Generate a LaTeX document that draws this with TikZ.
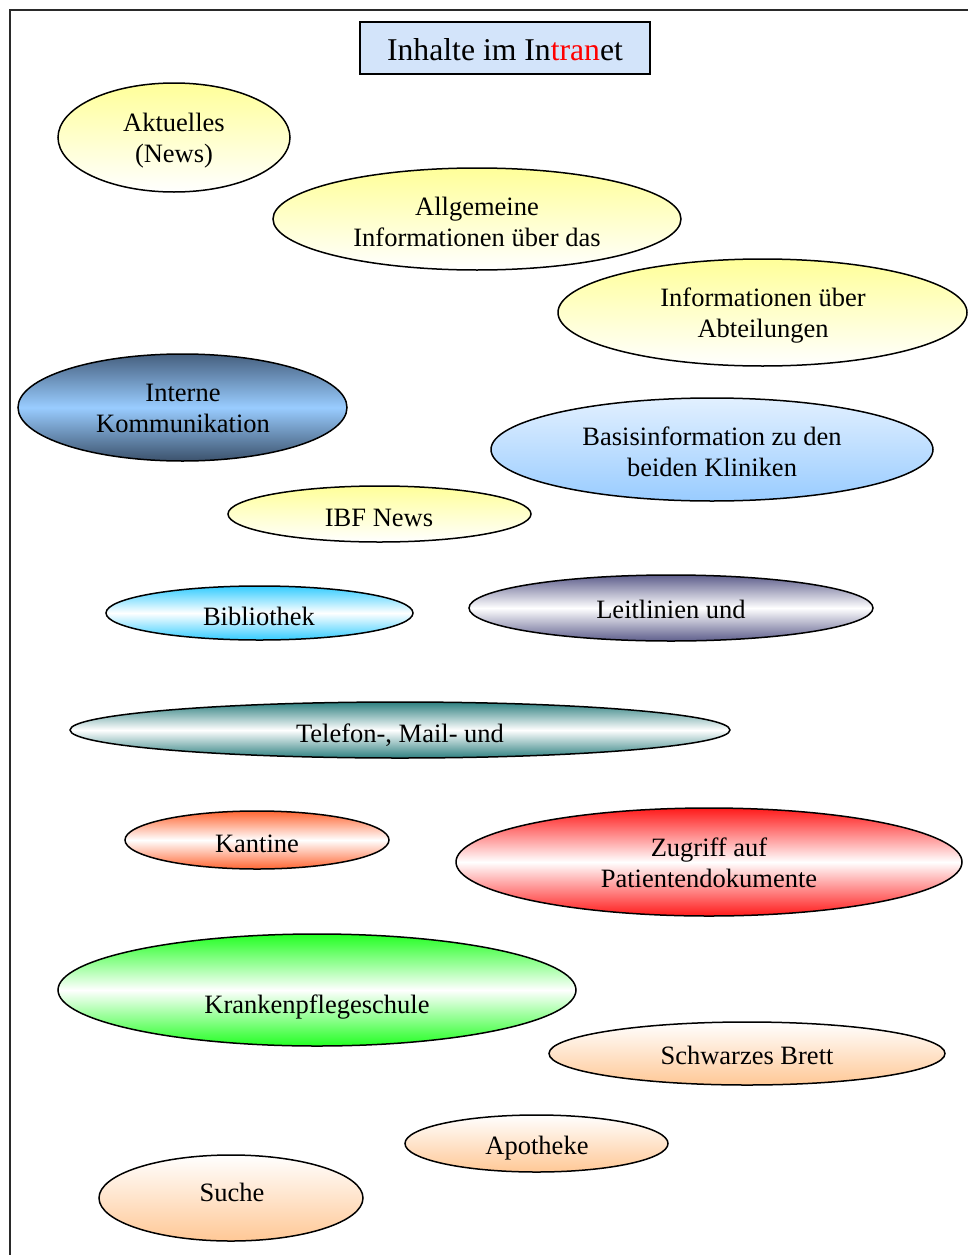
\documentclass[tikz,border=0pt]{standalone}
\usepackage{fontspec}
\setmainfont{Liberation Serif}
\usetikzlibrary{shapes.geometric}

\definecolor{frameline}{HTML}{2A2A2A}
\definecolor{titlefill}{HTML}{D3E4FA}
\definecolor{ylw}{HTML}{FFFF99}
\definecolor{skyblue}{HTML}{99CCFF}
\definecolor{paleblue}{HTML}{E2F0FF}
\definecolor{slateblue}{HTML}{46607F}
\definecolor{cyanblue}{HTML}{33CCFF}
\definecolor{lilac}{HTML}{5E5E8C}
\definecolor{teal}{HTML}{2E8080}
\definecolor{orangered}{HTML}{FF6633}
\definecolor{brightred}{HTML}{FF1A1A}
\definecolor{brightgreen}{HTML}{22FF22}
\definecolor{peach}{HTML}{FFC896}

\tikzset{
  bubble/.style={ellipse, draw=black, line width=1.5pt, inner sep=0pt},
  yellowbubble/.style={bubble, top color=ylw, bottom color=white},
  peachbubble/.style={bubble, top color=white, bottom color=peach},
  ringbubble/.style={bubble, top color=#1, bottom color=#1, middle color=white},
  caption/.style={align=center, inner sep=0pt, font=\fontsize{26.5}{31}\selectfont},
}

\begin{document}
\begin{tikzpicture}[x=1pt,y=-1pt]
\useasboundingbox (0,0) rectangle (967,1255);

% page frame (only the top and left edges are inside the picture)
\draw[frameline, line width=2pt] (10,1270) -- (10,10) -- (980,10);

% title
\node[draw=black, line width=1.5pt, fill=titlefill, minimum width=290pt, minimum height=52pt,
      inner sep=0pt] (title) at (505,48) {};
\node[inner sep=0pt, font=\fontsize{31.7}{36}\selectfont] (titlet) at (505,50)
  {Inhalte im In\textcolor{red}{tran}et};

% bubbles
\node[yellowbubble, minimum width=232pt, minimum height=109pt] (news) at (174,137.5) {};
\node[caption] (newst) at (174,141) {Aktuelles\\(News)};

\node[yellowbubble, minimum width=408pt, minimum height=102pt] (allg) at (477,219) {};
\node[caption] (allgt) at (477,221.5) {Allgemeine\\Informationen über das};

\node[yellowbubble, minimum width=409pt, minimum height=107pt] (abt) at (762.5,312.5) {};
\node[caption] (abtt) at (763,316) {Informationen über\\Abteilungen};

\node[bubble, top color=slateblue, bottom color=slateblue!85!black, middle color=skyblue,
      minimum width=329pt, minimum height=107pt] (komm) at (182.5,407.5) {};
\node[caption] (kommt) at (183,408.5) {Interne\\Kommunikation};

\node[bubble, top color=paleblue, bottom color=skyblue,
      minimum width=442pt, minimum height=103pt] (basis) at (712,449.5) {};
\node[caption] (basist) at (712,452) {Basisinformation zu den\\beiden Kliniken};

\node[yellowbubble, minimum width=303pt, minimum height=56pt] (ibf) at (379.5,514) {};
\node[caption] (ibft) at (379,518) {IBF News};

\node[ringbubble=cyanblue, minimum width=307pt, minimum height=54pt] (bib) at (259.5,613) {};
\node[caption] (bibt) at (259,616) {Bibliothek};

\node[ringbubble=lilac, minimum width=404pt, minimum height=66pt] (leit) at (671,608) {};
\node[caption] (leitt) at (671,609) {Leitlinien und};

\node[ringbubble=teal, minimum width=660pt, minimum height=56pt] (tel) at (400,730) {};
\node[caption] (telt) at (400,735) {Telefon-, Mail- und};

\node[ringbubble=orangered, minimum width=264pt, minimum height=58pt] (kant) at (257,840) {};
\node[caption] (kantt) at (257,844) {Kantine};

\node[ringbubble=brightred, minimum width=506pt, minimum height=108pt] (pat) at (709,862) {};
\node[caption] (patt) at (709,863) {Zugriff auf\\Patientendokumente};

\node[ringbubble=brightgreen, minimum width=518pt, minimum height=112pt] (kps) at (317,990) {};
\node[caption] (kpst) at (317,1007) {Krankenpflegeschule};

\node[peachbubble, minimum width=396pt, minimum height=63pt] (brett) at (747,1053.5) {};
\node[caption] (brettt) at (747,1055) {Schwarzes Brett};

\node[peachbubble, minimum width=263pt, minimum height=57pt] (apo) at (536.5,1143.5) {};
\node[caption] (apot) at (537,1148) {Apotheke};

\node[peachbubble, minimum width=264pt, minimum height=86pt] (such) at (231,1198) {};
\node[caption] (scht) at (232,1192) {Suche};
\end{tikzpicture}
\end{document}
